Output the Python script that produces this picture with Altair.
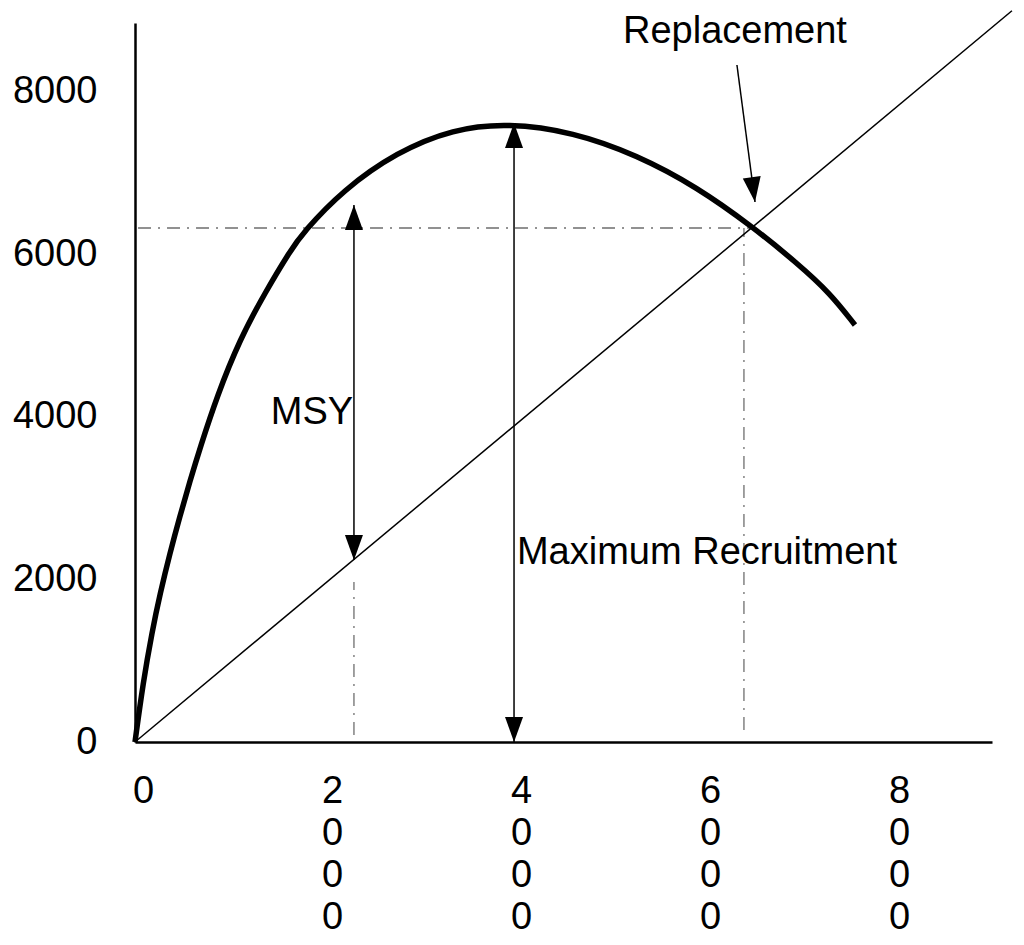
import altair as alt
import pandas as pd

# Stock-recruitment curve
curve_x = [0, 85, 180, 265, 370, 476, 582, 688, 868, 1111, 1376, 1640, 1778, 2201,
           2772, 3365, 3947, 4635, 5312, 5947, 6540, 7005, 7354, 7619]
curve_y = [0, 726, 1354, 1822, 2326, 2782, 3212, 3618, 4258, 4960, 5530, 6040, 6270, 6794,
           7262, 7545, 7618, 7508, 7225, 6831, 6338, 5895, 5526, 5132]

# Replacement line
line_x = [0, 9280]
line_y = [0, 9000]

# Dash-dot guide lines
guide_x = [32, 6444, 2317]
guide_x2 = [6529, 6444, 2317]
guide_y = [6326, 148, 86]
guide_y2 = [6326, 6326, 1969]

# Arrow shafts
shaft_x = [2317, 4011, 6370]
shaft_x2 = [2317, 4011, 6561]
shaft_y = [2240, 0, 8332]
shaft_y2 = [6609, 7618, 6646]

# Arrow heads (tip positions and rotation)
head_x = [2317, 2317, 4011, 4011, 6561]
head_y = [6609, 2240, 7618, 0, 6646]
head_angle = [180, 0, 180, 0, 352.5]

# Annotations
label_text = ["MSY", "Maximum Recruitment", "Replacement"]
label_x = [1873, 4042, 5164]
label_y = [4049, 2326, 8738]
label_align = ["center", "left", "left"]

x_ticks = [0, 2000, 4000, 6000, 8000]
y_ticks = [0, 2000, 4000, 6000, 8000]

FONT = "Liberation Sans"
XDOM = [0, 9069]
YDOM = [0, 8849]

xs = alt.Scale(domain=XDOM, nice=False, zero=False)
ys = alt.Scale(domain=YDOM, nice=False, zero=False)

x_axis = alt.Axis(values=x_ticks, format="d", labelExpr="split(datum.label, '')",
                  labelFont=FONT, labelFontSize=38, labelLineHeight=42, labelColor="black",
                  labelPadding=30, labelOffset=8, ticks=False, tickSize=0, grid=False,
                  domain=True, domainColor="black", domainWidth=2.5, title=None,
                  labelFlush=False, labelOverlap=False)
y_axis = alt.Axis(values=y_ticks, format="d", labelFont=FONT, labelFontSize=38,
                  labelColor="black", labelPadding=38, ticks=False, tickSize=0, grid=False,
                  domain=True, domainColor="black", domainWidth=2.5, title=None,
                  labelFlush=False, labelOverlap=False)

curve_df = pd.DataFrame({"x": curve_x, "y": curve_y})
line_df = pd.DataFrame({"x": line_x, "y": line_y})
guide_df = pd.DataFrame({"x": guide_x, "x2": guide_x2, "y": guide_y, "y2": guide_y2})
shaft_df = pd.DataFrame({"x": shaft_x, "x2": shaft_x2, "y": shaft_y, "y2": shaft_y2})
head_df = pd.DataFrame({"x": head_x, "y": head_y, "ang": head_angle})
text_df = pd.DataFrame({"t": label_text, "x": label_x, "y": label_y, "a": label_align})

axes_layer = alt.Chart(line_df).mark_point(opacity=0).encode(
    x=alt.X("x:Q", scale=xs, axis=x_axis),
    y=alt.Y("y:Q", scale=ys, axis=y_axis),
)

line_layer = alt.Chart(line_df).mark_line(color="black", strokeWidth=1.5, clip=False).encode(
    x=alt.X("x:Q", scale=xs), y=alt.Y("y:Q", scale=ys))

guide_layer = alt.Chart(guide_df).mark_rule(color="#6e6e6e", strokeWidth=1.3,
                                             strokeDash=[13, 7, 2, 7]).encode(
    x=alt.X("x:Q", scale=xs), x2="x2:Q", y=alt.Y("y:Q", scale=ys), y2="y2:Q")

curve_layer = alt.Chart(curve_df).mark_line(color="black", strokeWidth=5.5,
                                             interpolate="basis").encode(
    x=alt.X("x:Q", scale=xs), y=alt.Y("y:Q", scale=ys))

shaft_layer = alt.Chart(shaft_df).mark_rule(color="black", strokeWidth=1.5).encode(
    x=alt.X("x:Q", scale=xs), x2="x2:Q", y=alt.Y("y:Q", scale=ys), y2="y2:Q")

head_layer = alt.Chart(head_df).mark_point(
    shape="M0,0L-0.36,-1L0.36,-1Z", filled=True, color="black", opacity=1,
    size=2500, strokeWidth=0).encode(
    x=alt.X("x:Q", scale=xs), y=alt.Y("y:Q", scale=ys),
    angle=alt.Angle("ang:Q", scale=None))

text_layers = []
for al in ["center", "left"]:
    text_layers.append(
        alt.Chart(text_df[text_df["a"] == al]).mark_text(
            font=FONT, fontSize=38, color="black", align=al, baseline="middle", clip=False).encode(
            x=alt.X("x:Q", scale=xs), y=alt.Y("y:Q", scale=ys), text="t:N"))

chart = alt.layer(axes_layer, guide_layer, line_layer, curve_layer, shaft_layer,
                  head_layer, *text_layers).properties(
    width=857, height=719,
    background="white",
    autosize=alt.AutoSizeParams(type="none"),
    padding={"left": 127, "top": 15, "right": 24, "bottom": 195},
).configure_view(strokeWidth=0, stroke="transparent")

chart.save("out.html", embed_options={"renderer": "svg", "actions": False})
